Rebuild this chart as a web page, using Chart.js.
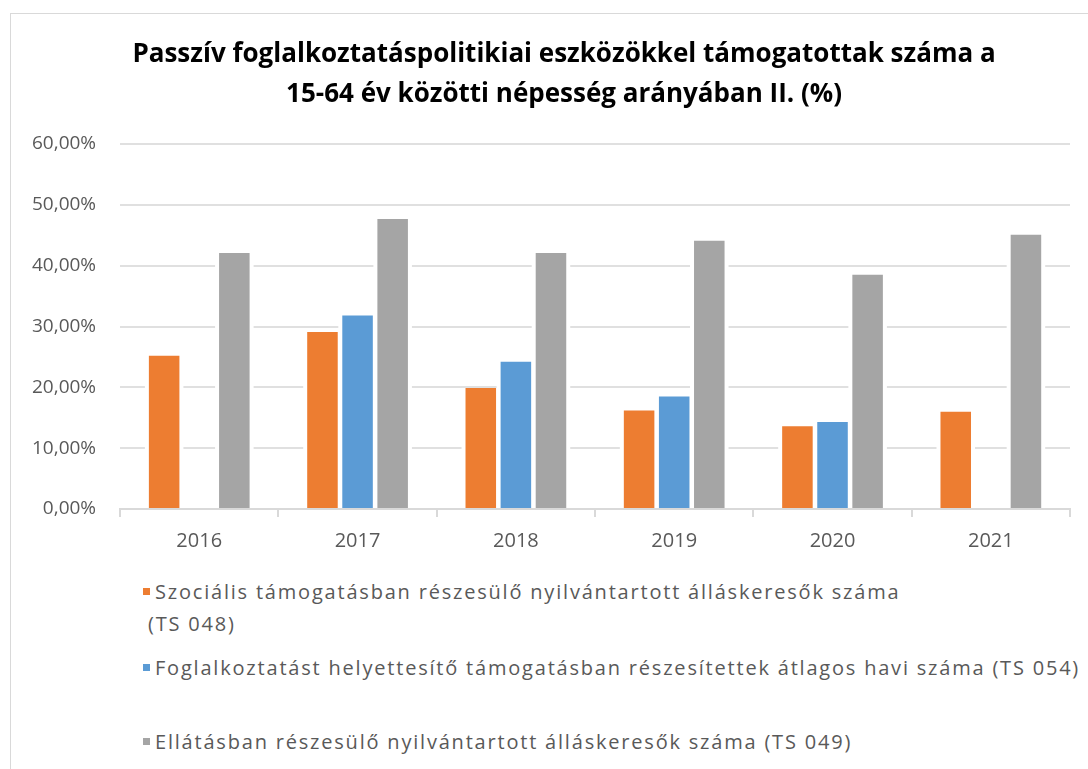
<!DOCTYPE html>
<html>
<head>
<meta charset="utf-8">
<script src="https://cdn.jsdelivr.net/npm/chart.js@4.4.0/dist/chart.umd.min.js"></script>
<style>
  html, body { margin: 0; padding: 0; background: #fff; overflow: hidden; }
  #frame { position: absolute; left: 10px; top: 13px; width: 1110px; height: 800px; border: 1px solid #d9d9d9; }
  #wrap { position: absolute; left: 0; top: 0; width: 1088px; height: 573px; }
  #legend { position: absolute; left: 0; top: 0; font-family: "Open Sans", sans-serif; font-size: 20px; color: #595959; letter-spacing: 1.8px; }
  .item { position: absolute; left: 148px; line-height: 32px; white-space: nowrap; text-indent: -5px; }
  .box { display: inline-block; width: 7px; height: 7px; margin-right: 5px; vertical-align: middle; position: relative; top: -2px; }
</style>
</head>
<body>
<div id="frame"></div>
<div id="wrap"><canvas id="myChart" width="1088" height="573"></canvas></div>
<div id="legend"></div>
<script>
const years = ['2016', '2017', '2018', '2019', '2020', '2021']
const szocialis = [25.2, 29.1, 19.9, 16.2, 13.6, 16.0]
const foglalkoztatast = [null, 31.8, 24.2, 18.5, 14.3, null]
const ellatasban = [42.1, 47.7, 42.1, 44.1, 38.5, 45.1]
const seriesNames = [
    ['Szociális támogatásban részesülő nyilvántartott álláskeresők száma', '(TS 048)'],
    ['Foglalkoztatást helyettesítő támogatásban részesítettek átlagos havi száma (TS 054)'],
    ['Ellátásban részesülő nyilvántartott álláskeresők száma (TS 049)']
]
const colors = ['#ED7D31', '#5B9BD5', '#A5A5A5']
const titleLines = [
    'Passzív foglalkoztatáspolitikiai eszközökkel támogatottak száma a',
    '15-64 év közötti népesség arányában II. (%)'
]
const legendTops = [576, 652, 726]

// white margin next to the bars, the gridlines stop there in the original
const barGaps = {
    id: 'barGaps',
    afterLayout(chart) {
        // the title is centred on the whole chart object, not on the plot
        if (chart.titleBlock) chart.titleBlock.left = 58
    },
    beforeDatasetsDraw(chart) {
        const ctx = chart.ctx
        ctx.save()
        ctx.fillStyle = '#fff'
        chart.data.datasets.forEach((ds, i) => {
            chart.getDatasetMeta(i).data.forEach((bar, j) => {
                if (ds.data[j] === null) return
                const w = bar.width
                ctx.fillRect(bar.x - w / 2 - 4, bar.y, w + 8, bar.base - bar.y - 1)
            })
        })
        ctx.restore()
    }
}

const data = {
    labels: years,
    datasets: [szocialis, foglalkoztatast, ellatasban].map((values, i) => ({
        label: seriesNames[i].join(' '),
        data: values,
        backgroundColor: colors[i],
        borderWidth: 0,
        categoryPercentage: 0.665,
        barPercentage: 0.87
    }))
}

const config = {
    type: 'bar',
    data: data,
    options: {
        responsive: false,
        animation: false,
        layout: { padding: { left: 8, right: 18, top: 0, bottom: 8 } },
        plugins: {
            legend: { display: false },
            tooltip: { enabled: false },
            title: {
                display: true,
                text: titleLines,
                color: '#000',
                font: { family: '"Open Sans", sans-serif', size: 26, weight: 'bold', lineHeight: 1.54 },
                padding: { top: 35, bottom: 29 }
            }
        },
        scales: {
            x: {
                grid: { display: true, drawOnChartArea: false, drawTicks: true, tickLength: 8, color: '#d9d9d9', lineWidth: 2 },
                border: { display: true, color: '#d9d9d9', width: 2 },
                ticks: { color: '#595959', font: { family: '"Open Sans", sans-serif', size: 20 }, padding: 12 }
            },
            y: {
                min: 0,
                max: 60,
                grid: { color: '#e0e0e0', lineWidth: 2, drawTicks: false },
                border: { display: false },
                ticks: {
                    stepSize: 10,
                    padding: 24,
                    color: '#595959',
                    font: { family: '"Open Sans", sans-serif', size: 19 },
                    callback: v => v.toFixed(2).replace('.', ',') + '%'
                }
            }
        }
    },
    plugins: [barGaps]
}

let myChart = new Chart(document.getElementById('myChart'), config)

// legend drawn as html below the chart
const legend = document.getElementById('legend')
myChart.data.datasets.forEach((ds, i) => {
    const item = document.createElement('div')
    item.className = 'item'
    item.style.top = legendTops[i] + 'px'
    const box = document.createElement('span')
    box.className = 'box'
    box.style.background = ds.backgroundColor
    item.appendChild(box)
    seriesNames[i].forEach((line, k) => {
        if (k > 0) item.appendChild(document.createElement('br'))
        item.appendChild(document.createTextNode(line))
    })
    legend.appendChild(item)
})
</script>
</body>
</html>
